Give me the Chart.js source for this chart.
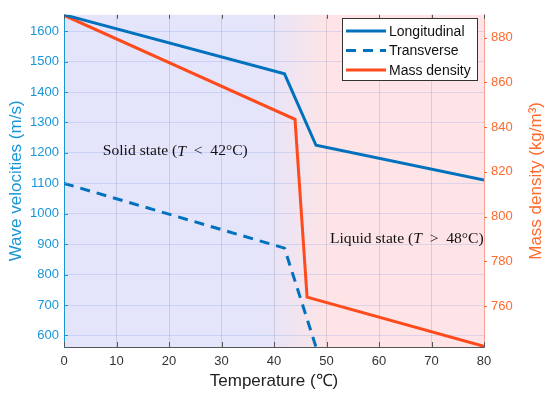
<!DOCTYPE html>
<html>
<head>
<meta charset="utf-8">
<script src="https://cdn.jsdelivr.net/npm/chart.js@4/dist/chart.umd.min.js"></script>
<style>
html,body{margin:0;padding:0;background:#fff;}
#wrap{width:550px;height:395px;}
</style>
</head>
<body>
<div id="wrap"><canvas id="c" width="550" height="395"></canvas></div>
<script>
// Data
const longT = [0, 42, 48, 80];
const longV = [1654, 1460, 1225, 1111];
const transT = [0, 42, 48];
const transV = [1100, 887, 562];
const densT = [0, 44, 46.3, 80];
const densV = [890, 843.5, 764, 742];

const xTicks = [0, 10, 20, 30, 40, 50, 60, 70, 80];
const yTicks = [600, 700, 800, 900, 1000, 1100, 1200, 1300, 1400, 1500, 1600];
const y2Ticks = [760, 780, 800, 820, 840, 860, 880];

const seriesNames = ['Longitudinal', 'Transverse', 'Mass density'];
const xTitle = 'Temperature (\u2103)';
const yTitle = 'Wave velocities (m/s)';
const y2Title = 'Mass density (kg/m\u00B3)';

const BLUE = '#0072BD';
const ORANGE = '#FF4A1C';
const AXBLUE = '#1896D8';
const AXORANGE = '#FF6A2E';

const pts = (xs, ys) => xs.map((x, i) => ({x: x, y: ys[i]}));

const bgPlugin = {
  id: 'bg',
  beforeDraw(chart) {
    const {ctx, chartArea: a, scales} = chart;
    const x1 = scales.x.getPixelForValue(38);
    const x2 = scales.x.getPixelForValue(50);
    const g = ctx.createLinearGradient(x1, 0, x2, 0);
    g.addColorStop(0, 'rgb(228,228,251)');
    g.addColorStop(1, 'rgb(254,228,230)');
    ctx.save();
    ctx.fillStyle = '#fff';
    ctx.fillRect(0, 0, chart.width, chart.height);
    ctx.fillStyle = g;
    ctx.fillRect(a.left, a.top, a.right - a.left, a.bottom - a.top);
    ctx.restore();
  },
  afterDatasetsDraw(chart) {
    const {ctx, chartArea: a, scales} = chart;
    ctx.save();
    // tick marks
    ctx.lineWidth = 1;
    ctx.strokeStyle = '#555';
    scales.x.ticks.forEach(t => {
      const px = Math.round(scales.x.getPixelForValue(t.value)) + 0.5;
      ctx.beginPath();
      ctx.moveTo(px, a.top); ctx.lineTo(px, a.top + 4);
      ctx.moveTo(px, a.bottom); ctx.lineTo(px, a.bottom - 5);
      ctx.stroke();
    });
    ctx.strokeStyle = AXBLUE;
    scales.y.ticks.forEach(t => {
      const py = Math.round(scales.y.getPixelForValue(t.value)) + 0.5;
      ctx.beginPath(); ctx.moveTo(a.left, py); ctx.lineTo(a.left + 4, py); ctx.stroke();
    });
    ctx.strokeStyle = AXORANGE;
    scales.y2.ticks.forEach(t => {
      const py = Math.round(scales.y2.getPixelForValue(t.value)) + 0.5;
      ctx.beginPath(); ctx.moveTo(a.right, py); ctx.lineTo(a.right + 3, py); ctx.stroke();
    });

    // annotations
    const drawRich = (parts, cx, cy) => {
      ctx.textBaseline = 'middle';
      let w = 0;
      parts.forEach(p => { ctx.font = p[1]; w += ctx.measureText(p[0]).width; });
      let x = cx - w / 2;
      ctx.fillStyle = '#111';
      ctx.textAlign = 'left';
      parts.forEach(p => { ctx.font = p[1]; ctx.fillText(p[0], x, cy); x += ctx.measureText(p[0]).width; });
    };
    const nf = '15.6px "Liberation Serif", "Times New Roman", serif';
    const itf = 'italic 15.6px "Liberation Serif", "Times New Roman", serif';
    drawRich([['Solid state (', nf], ['T', itf], ['  <  42\u00B0C)', nf]],
      scales.x.getPixelForValue(21.2), scales.y.getPixelForValue(1205));
    drawRich([['Liquid state (', nf], ['T', itf], ['  >  48\u00B0C)', nf]],
      scales.x.getPixelForValue(65.3), scales.y.getPixelForValue(918));

    // right axis title (reads bottom to top)
    ctx.save();
    ctx.translate(536, (a.top + a.bottom) / 2);
    ctx.rotate(-Math.PI / 2);
    ctx.font = '17px "Liberation Sans", Arial, sans-serif';
    ctx.fillStyle = AXORANGE;
    ctx.textAlign = 'center';
    ctx.textBaseline = 'middle';
    ctx.fillText(y2Title, 0, 0);
    ctx.restore();

    // legend
    const lx = 342, ly = 18, lw = 135, lh = 62;
    ctx.fillStyle = '#fff';
    ctx.fillRect(lx, ly, lw, lh);
    ctx.strokeStyle = '#333';
    ctx.lineWidth = 1;
    ctx.strokeRect(lx + 0.5, ly + 0.5, lw, lh);
    ctx.font = '14px "Liberation Sans", Arial, sans-serif';
    ctx.textAlign = 'left';
    ctx.textBaseline = 'middle';
    chart.data.datasets.forEach((ds, i) => {
      const yy = ly + 13 + i * 19.5;
      ctx.strokeStyle = ds.borderColor;
      ctx.lineWidth = 3;
      ctx.setLineDash(ds.borderDash || []);
      ctx.beginPath(); ctx.moveTo(lx + 4, yy); ctx.lineTo(lx + 44, yy); ctx.stroke();
      ctx.setLineDash([]);
      ctx.fillStyle = '#111';
      ctx.fillText(ds.label, lx + 47, yy + 1);
    });
    ctx.restore();
  }
};

const fmt = v => String(v);

new Chart(document.getElementById('c'), {
  type: 'line',
  data: {
    datasets: [
      {label: seriesNames[0], data: pts(longT, longV), borderColor: BLUE, borderWidth: 3, pointRadius: 0, yAxisID: 'y', tension: 0},
      {label: seriesNames[1], data: pts(transT, transV), borderColor: BLUE, borderWidth: 3, borderDash: [10, 7], pointRadius: 0, yAxisID: 'y', tension: 0},
      {label: seriesNames[2], data: pts(densT, densV), borderColor: ORANGE, borderWidth: 3, pointRadius: 0, yAxisID: 'y2', tension: 0}
    ]
  },
  options: {
    responsive: false,
    animation: false,
    devicePixelRatio: 1,
    layout: {padding: {top: 9, left: 0, right: 0, bottom: 0}},
    plugins: {legend: {display: false}, tooltip: {enabled: false}},
    scales: {
      x: {
        type: 'linear', min: 0, max: 80,
        afterBuildTicks: s => { s.ticks = xTicks.map(v => ({value: v})); },
        afterFit: s => { s.height = 48; },
        grid: {color: 'rgba(110,110,160,0.22)', drawTicks: false},
        border: {color: '#555', width: 1},
        ticks: {color: '#333', padding: 7, callback: fmt, font: {family: '"Liberation Sans", Arial, sans-serif', size: 13}},
        title: {display: true, text: xTitle, color: '#222', padding: {bottom: 3}, font: {family: '"Liberation Sans", Arial, sans-serif', size: 17}}
      },
      y: {
        position: 'left', min: 562, max: 1654,
        afterBuildTicks: s => { s.ticks = yTicks.map(v => ({value: v})); },
        afterFit: s => { s.width = 64; },
        grid: {color: 'rgba(120,150,230,0.25)', drawTicks: false},
        border: {color: AXBLUE, width: 1},
        ticks: {color: AXBLUE, padding: 5, callback: fmt, font: {family: '"Liberation Sans", Arial, sans-serif', size: 13}},
        title: {display: true, text: yTitle, color: AXBLUE, padding: {top: 6}, font: {family: '"Liberation Sans", Arial, sans-serif', size: 17}}
      },
      y2: {
        position: 'right', min: 741.7, max: 890.2,
        afterBuildTicks: s => { s.ticks = y2Ticks.map(v => ({value: v})); },
        afterFit: s => { s.width = 66; },
        grid: {display: false, drawTicks: false},
        border: {color: 'rgba(255,120,90,0.6)', width: 1},
        ticks: {color: AXORANGE, padding: 7, callback: fmt, font: {family: '"Liberation Sans", Arial, sans-serif', size: 13}}
      }
    }
  },
  plugins: [bgPlugin]
});
</script>
</body>
</html>
